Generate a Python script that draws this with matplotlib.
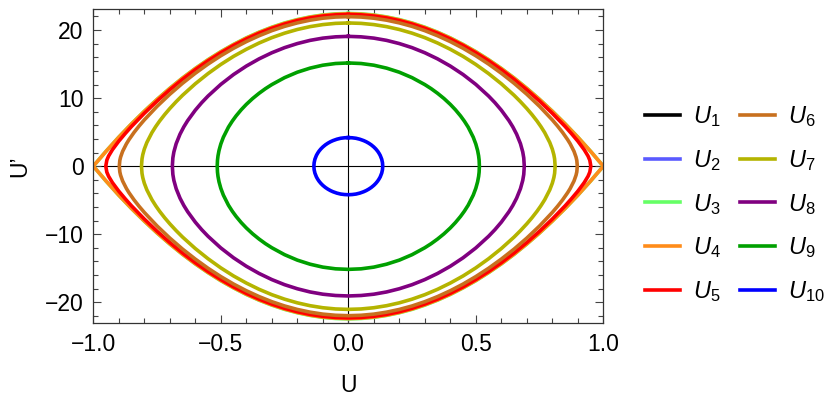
import numpy as np
import matplotlib
matplotlib.use("Agg")
import matplotlib.pyplot as plt
from matplotlib.lines import Line2D
from matplotlib.ticker import MultipleLocator

plt.rcParams['font.family'] = ['Liberation Sans', 'DejaVu Sans']
plt.rcParams['mathtext.fontset'] = 'custom'
plt.rcParams['mathtext.it'] = 'Liberation Sans:italic'
plt.rcParams['mathtext.rm'] = 'Liberation Sans'

# quarter orbits (U >= 0, U' >= 0)
u1, v1 = [0.0], [0.0]
u2, v2 = [1.0], [0.0]
u3 = [0.0, 0.05, 0.1, 0.15, 0.2, 0.25, 0.3, 0.35, 0.4, 0.45, 0.5, 0.55, 0.6,
      0.65, 0.7, 0.75, 0.8, 0.85, 0.9, 0.95, 1.0]
v3 = [22.45, 22.39, 22.23, 21.94, 21.55, 21.05, 20.43, 19.70, 18.86, 17.90,
      16.84, 15.66, 14.37, 12.97, 11.45, 9.82, 8.08, 6.23, 4.27, 2.19, 0.0]
u4 = [0.0, 0.05, 0.1, 0.15, 0.2, 0.25, 0.3, 0.35, 0.4, 0.45, 0.5, 0.55, 0.6,
      0.65, 0.7, 0.75, 0.8, 0.85, 0.9, 0.95, 1.0]
v4 = [22.4, 22.34, 22.18, 21.90, 21.50, 21.0, 20.38, 19.66, 18.82, 17.86,
      16.80, 15.62, 14.34, 12.94, 11.42, 9.80, 8.06, 6.22, 4.26, 2.18, 0.0]
u5 = [0.0, 0.05, 0.1, 0.15, 0.2, 0.25, 0.3, 0.35, 0.4, 0.45, 0.5, 0.55, 0.6,
      0.65, 0.7, 0.75, 0.8, 0.85, 0.875, 0.9, 0.925, 0.94, 0.947, 0.951]
v5 = [22.30, 22.24, 22.07, 21.79, 21.40, 20.89, 20.27, 19.54, 18.69, 17.74,
      16.66, 15.48, 14.18, 12.76, 11.22, 9.56, 7.77, 5.84, 4.79, 3.68, 2.42,
      1.49, 0.87, 0.0]
u6 = [0.0, 0.05, 0.1, 0.15, 0.2, 0.25, 0.3, 0.35, 0.4, 0.45, 0.5, 0.55, 0.6,
      0.65, 0.7, 0.75, 0.8, 0.82, 0.84, 0.86, 0.87, 0.885, 0.893, 0.896, 0.898]
v6 = [21.98, 21.92, 21.75, 21.46, 21.06, 20.55, 19.92, 19.17, 18.31, 17.33,
      16.23, 15.01, 13.66, 12.19, 10.57, 8.79, 6.80, 5.92, 4.97, 3.90, 3.29,
      2.18, 1.33, 0.84, 0.0]
u7 = [0.0, 0.05, 0.1, 0.15, 0.2, 0.25, 0.3, 0.35, 0.4, 0.45, 0.5, 0.55, 0.6,
      0.65, 0.675, 0.7, 0.72, 0.74, 0.755, 0.77, 0.79, 0.80, 0.806, 0.809, 0.811]
v7 = [21.05, 20.99, 20.81, 20.51, 20.09, 19.55, 18.89, 18.10, 17.18, 16.14,
      14.95, 13.61, 12.11, 10.42, 9.48, 8.47, 7.59, 6.63, 5.83, 4.94, 3.48,
      2.50, 1.68, 1.06, 0.0]
u8 = [0.0, 0.05, 0.1, 0.15, 0.2, 0.25, 0.3, 0.35, 0.4, 0.45, 0.5, 0.55, 0.575,
      0.6, 0.63, 0.645, 0.66, 0.675, 0.684, 0.688, 0.69]
v8 = [19.08, 19.01, 18.82, 18.49, 18.02, 17.42, 16.67, 15.77, 14.71, 13.47,
      12.02, 10.31, 9.33, 8.23, 6.69, 5.78, 4.70, 3.31, 2.09, 1.21, 0.0]
u9 = [0.0, 0.05, 0.1, 0.15, 0.2, 0.25, 0.3, 0.325, 0.35, 0.375, 0.4, 0.42,
      0.44, 0.455, 0.47, 0.49, 0.50, 0.507, 0.511, 0.513, 0.514]
v9 = [15.17, 15.09, 14.84, 14.41, 13.81, 13.01, 11.99, 11.39, 10.71, 9.95,
      9.08, 8.29, 7.39, 6.62, 5.74, 4.25, 3.25, 2.30, 1.51, 0.87, 0.0]
u10 = [0.0, 0.015, 0.03, 0.045, 0.06, 0.07, 0.08, 0.09, 0.10, 0.108, 0.115,
       0.12, 0.125, 0.131, 0.134, 0.135]
v10 = [4.2, 4.17, 4.10, 3.96, 3.76, 3.59, 3.38, 3.13, 2.82, 2.52, 2.20, 1.92,
       1.59, 1.02, 0.51, 0.0]

labels = ['$U_{%d}$' % i for i in range(1, 11)]
colors = ['#000000', '#5a5aff', '#66ff66', '#ff8c1a', '#ff0000',
          '#c8701e', '#b4b400', '#800080', '#00a000', '#0000ff']
quarters = [(u1, v1), (u2, v2), (u3, v3), (u4, v4), (u5, v5),
            (u6, v6), (u7, v7), (u8, v8), (u9, v9), (u10, v10)]


def closed(u, v):
    # mirror one quarter into the full closed orbit
    u = np.asarray(u)
    v = np.asarray(v)
    x = np.concatenate([u, u[::-1], -u, -u[::-1]])
    y = np.concatenate([v, -v[::-1], -v, v[::-1]])
    return x, y


fig = plt.figure(figsize=(8.3, 3.97), dpi=100)
ax = fig.add_axes([0.1124, 0.1856, 0.6145, 0.7917])

ax.axhline(0, color='black', lw=0.8, zorder=1)
ax.axvline(0, color='black', lw=0.8, zorder=1)

for i, ((u, v), c) in enumerate(zip(quarters, colors)):
    x, y = closed(u, v)
    if len(u) == 1:
        if i > 0:
            ax.plot(x, y, 'o', color=c, ms=2.5, zorder=2)
    else:
        ax.plot(x, y, color=c, lw=2.6, zorder=2, solid_joinstyle='round')

ax.set_xlim(-1, 1)
ax.set_ylim(-23.1, 23.1)
ax.xaxis.set_minor_locator(MultipleLocator(0.1))
ax.yaxis.set_minor_locator(MultipleLocator(2))
ax.set_xticks([-1, -0.5, 0, 0.5, 1])
ax.set_xticklabels(['\u22121.0', '\u22120.5', '0.0', '0.5', '1.0'])
ax.set_yticks([-20, -10, 0, 10, 20])
ax.set_yticklabels(['\u221220', '\u221210', '0', '10', '20'])
ax.tick_params(which='both', direction='in', top=True, right=True,
               labelsize=16.5, color='#444444', width=0.8)
ax.tick_params(which='major', length=6, pad=7)
ax.tick_params(which='minor', length=3.5)
for s in ax.spines.values():
    s.set_color('#333333')
    s.set_linewidth(0.9)

ax.set_xlabel('U', fontsize=16.5, labelpad=13)
ax.set_ylabel('U\u2019', fontsize=16.5, labelpad=10)

handles = [Line2D([], [], color=c, lw=2.6) for c in colors]
fig.legend(handles, labels, ncol=2, loc='center left',
           bbox_to_anchor=(0.752, 0.486), frameon=False, fontsize=17,
           handlelength=1.48, handletextpad=0.55, columnspacing=0.8,
           labelspacing=0.8)

fig.savefig('out.png', dpi=100)
